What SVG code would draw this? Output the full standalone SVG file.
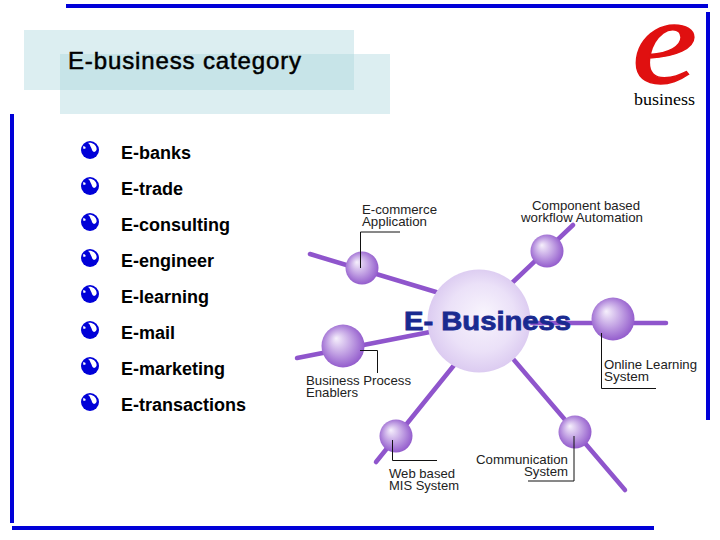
<svg xmlns="http://www.w3.org/2000/svg" width="720" height="540" viewBox="0 0 720 540">
<style>
text{font-family:"Liberation Sans",Arial,sans-serif;fill:#000}
.bar{fill:#0000d8}
.band{fill:#a8d4dc;fill-opacity:.4}
.item{font-size:18px;font-weight:bold}
.lbl{font-size:13px;fill:#222}
.sp{stroke:#8f55cc;stroke-width:4.500;fill:none;stroke-linecap:round}
.ld{stroke:#111;stroke-width:1;fill:none}
</style>
<defs>
<radialGradient id="ball" cx=".5" cy=".5" r=".62" fx=".34" fy=".32">
<stop offset="0" stop-color="#f6f0fc"/><stop offset=".45" stop-color="#c3a3e4"/><stop offset="1" stop-color="#8243c4"/>
</radialGradient>
<radialGradient id="hub" cx=".5" cy=".5" r=".55" fx=".55" fy=".42">
<stop offset="0" stop-color="#f8f4fd"/><stop offset=".6" stop-color="#ebe1f8"/><stop offset="1" stop-color="#d8c6ef"/>
</radialGradient>
<g id="bullet">
<circle r="9" fill="#0000d8"/>
<path d="M-2-7C0-6.500 0-4 1-2.500C2-1 2 1.500 4 2C6 1.500 7 0 6.500-2C6-5 2-8-2-7Z" fill="#fff"/>
<path d="M-7-3.500C-5.500-4-4-3-4.500-1.500L-6.500-1Z" fill="#fff"/>
</g>
</defs>
<g id="frame">
<rect class="bar" x="66" y="4" width="642" height="4"/>
<rect class="bar" x="706" y="12" width="4" height="408"/>
<rect class="bar" x="10" y="114" width="4" height="409"/>
<rect class="bar" x="12" y="526" width="642" height="4"/>
</g>
<g id="title">
<rect class="band" x="24" y="30" width="330" height="60"/>
<rect class="band" x="60" y="54" width="330" height="60"/>
<text x="68" y="69" font-size="24" stroke="#000" stroke-width=".5" textLength="233">E-business category</text>
</g>
<g id="logo">
<text transform="translate(632 83) scale(1.2 1)" font-size="122" font-style="italic" stroke="#e01010" stroke-width="1.500" style="font-family:'Liberation Serif',serif;fill:#e01010">e</text>
<text x="634" y="105" font-size="17" style="font-family:'Liberation Serif',serif" textLength="61" lengthAdjust="spacingAndGlyphs">business</text>
</g>
<g id="list">
<use href="#bullet" x="90" y="150"/><text class="item" x="121" y="159">E-banks</text>
<use href="#bullet" x="90" y="186"/><text class="item" x="121" y="195">E-trade</text>
<use href="#bullet" x="90" y="222"/><text class="item" x="121" y="231">E-consulting</text>
<use href="#bullet" x="90" y="258"/><text class="item" x="121" y="267">E-engineer</text>
<use href="#bullet" x="90" y="294"/><text class="item" x="121" y="303">E-learning</text>
<use href="#bullet" x="90" y="330"/><text class="item" x="121" y="339">E-mail</text>
<use href="#bullet" x="90" y="366"/><text class="item" x="121" y="375">E-marketing</text>
<use href="#bullet" x="90" y="402"/><text class="item" x="121" y="411">E-transactions</text>
</g>
<g id="connectors">
<path class="sp" d="M310 254L436 292"/>
<path class="sp" d="M297 358L430 332"/>
<path class="sp" d="M513 282L573 225"/>
<path class="sp" d="M530 323H666"/>
<path class="sp" d="M455 364L376 462"/>
<path class="sp" d="M514 360L625 490"/>
</g>
<g id="hub-node">
<circle cx="479" cy="321" r="51.500" fill="url(#hub)"/>
<text x="404" y="330" font-size="26" font-weight="bold" stroke="#1a2a90" stroke-width=".8" style="fill:#1a2a90" textLength="167" lengthAdjust="spacingAndGlyphs">E- Business</text>
</g>
<g id="node-ecommerce">
<circle cx="362" cy="268" r="16.500" fill="url(#ball)"/>
<path class="ld" d="M400 232H360.500V268"/>
<text class="lbl" x="362" y="214" textLength="75" lengthAdjust="spacingAndGlyphs">E-commerce</text><text class="lbl" x="362" y="226" textLength="65" lengthAdjust="spacingAndGlyphs">Application</text>
</g>
<g id="node-component">
<circle cx="547" cy="251" r="16.500" fill="url(#ball)"/>
<text class="lbl" x="532" y="210" textLength="108" lengthAdjust="spacingAndGlyphs">Component based</text><text class="lbl" x="521" y="222" textLength="122" lengthAdjust="spacingAndGlyphs">workflow Automation</text>
</g>
<g id="node-online">
<circle cx="613" cy="319" r="21.500" fill="url(#ball)"/>
<path class="ld" d="M601.500 333V388.500H656"/>
<text class="lbl" x="604" y="369" textLength="93" lengthAdjust="spacingAndGlyphs">Online Learning</text><text class="lbl" x="604" y="381" textLength="45" lengthAdjust="spacingAndGlyphs">System</text>
</g>
<g id="node-process">
<circle cx="343" cy="346" r="21.500" fill="url(#ball)"/>
<path class="ld" d="M360 350.500H377.500V373"/>
<text class="lbl" x="306" y="385" textLength="105" lengthAdjust="spacingAndGlyphs">Business Process</text><text class="lbl" x="306" y="397" textLength="52" lengthAdjust="spacingAndGlyphs">Enablers</text>
</g>
<g id="node-web">
<circle cx="396" cy="436" r="16.500" fill="url(#ball)"/>
<path class="ld" d="M392.500 440V460.500H437"/>
<text class="lbl" x="389" y="478" textLength="66" lengthAdjust="spacingAndGlyphs">Web based</text><text class="lbl" x="389" y="490" textLength="70" lengthAdjust="spacingAndGlyphs">MIS System</text>
</g>
<g id="node-communication">
<circle cx="575" cy="432" r="16.500" fill="url(#ball)"/>
<path class="ld" d="M574 436V481H528" stroke-width="1.500"/>
<text class="lbl" x="476" y="464" textLength="92" lengthAdjust="spacingAndGlyphs">Communication</text><text class="lbl" x="524" y="476" textLength="44" lengthAdjust="spacingAndGlyphs">System</text>
</g>
</svg>
